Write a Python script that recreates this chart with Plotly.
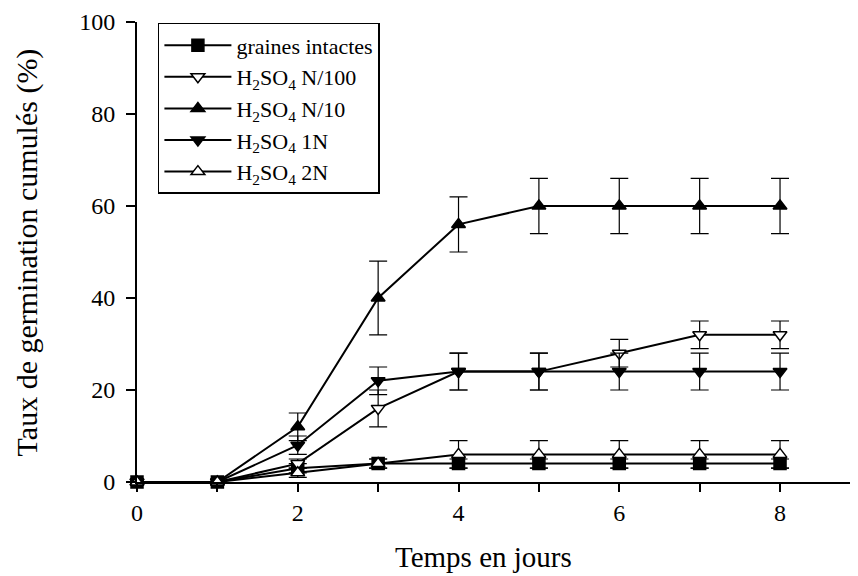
import plotly.graph_objects as go

days = [0, 1, 2, 3, 4, 5, 6, 7, 8]

intactes = [0, 0, 3, 4, 4, 4, 4, 4, 4]
intactes_err = [0, 0, 1, 1, 1, 1, 1, 1, 1]
n100 = [0, 0, 4, 16, 24, 24, 28, 32, 32]
n100_err = [0, 0, 1, 4, 4, 4, 3, 3, 3]
n10 = [0, 0, 12, 40, 56, 60, 60, 60, 60]
n10_err = [0, 0, 3, 8, 6, 6, 6, 6, 6]
n1 = [0, 0, 8, 22, 24, 24, 24, 24, 24]
n1_err = [0, 0, 2, 3, 4, 4, 4, 4, 4]
n2 = [0, 0, 2, 4, 6, 6, 6, 6, 6]
n2_err = [0, 0, 1, 1, 3, 3, 3, 3, 3]

names = ["graines intactes", "H<sub>2</sub>SO<sub>4</sub> N/100", "H<sub>2</sub>SO<sub>4</sub> N/10",
         "H<sub>2</sub>SO<sub>4</sub> 1N", "H<sub>2</sub>SO<sub>4</sub> 2N"]

x_tickvals = [0, 1, 2, 3, 4, 5, 6, 7, 8]
x_ticktext = ["0", "", "2", "", "4", "", "6", "", "8"]
y_tickvals = [0, 20, 40, 60, 80, 100]

x_title = "Temps en jours"
y_title = "Taux de germination cumulés (%)"

series = [
    (intactes, intactes_err, "square", "black"),
    (n100, n100_err, "triangle-down", "white"),
    (n10, n10_err, "triangle-up", "black"),
    (n1, n1_err, "triangle-down", "black"),
    (n2, n2_err, "triangle-up", "white"),
]

fig = go.Figure()
for (vals, errs, sym, fill), name in zip(series, names):
    fig.add_trace(go.Scatter(
        x=days, y=vals, name=name, mode="lines+markers",
        line=dict(color="black", width=2),
        marker=dict(symbol=sym, size=12, color=fill, line=dict(color="black", width=1.5)),
        error_y=dict(type="data", array=errs, visible=True, color="black", thickness=1.2, width=9),
        cliponaxis=False,
    ))

font_family = "Liberation Serif, Times New Roman, serif"
fig.update_layout(
    width=850, height=568,
    margin=dict(l=129, r=0, t=14, b=94),
    paper_bgcolor="white", plot_bgcolor="white",
    font=dict(family=font_family, color="black"),
    showlegend=True,
    legend=dict(
        x=0.029, y=0.998, xanchor="left", yanchor="top",
        bordercolor="black", borderwidth=1.5, bgcolor="white",
        font=dict(size=22, family=font_family, color="black"),
        tracegroupgap=0, itemwidth=67,
    ),
    xaxis=dict(
        range=[0, 8.97], tickvals=x_tickvals, ticktext=x_ticktext, automargin=False,
        showgrid=False, zeroline=False, showline=True, linecolor="black", linewidth=2,
        ticks="outside", ticklen=8, tickwidth=1.5, tickcolor="black",
        tickfont=dict(size=24),
    ),
    yaxis=dict(
        range=[0, 100], tickvals=y_tickvals, automargin=False,
        showgrid=False, zeroline=False, showline=True, linecolor="black", linewidth=2,
        ticks="outside", ticklen=9, tickwidth=1.5, tickcolor="black",
        tickfont=dict(size=24), ticklabelstandoff=6,
    ),
    annotations=[
        dict(text=x_title, xref="paper", yref="paper", x=0.48, y=-0.163,
             xanchor="center", yanchor="middle", showarrow=False, font=dict(size=29)),
        dict(text=y_title, xref="paper", yref="paper", x=-0.152, y=0.5, textangle=-90,
             xanchor="center", yanchor="middle", showarrow=False, font=dict(size=30)),
    ],
)

fig.write_html("out.html")
